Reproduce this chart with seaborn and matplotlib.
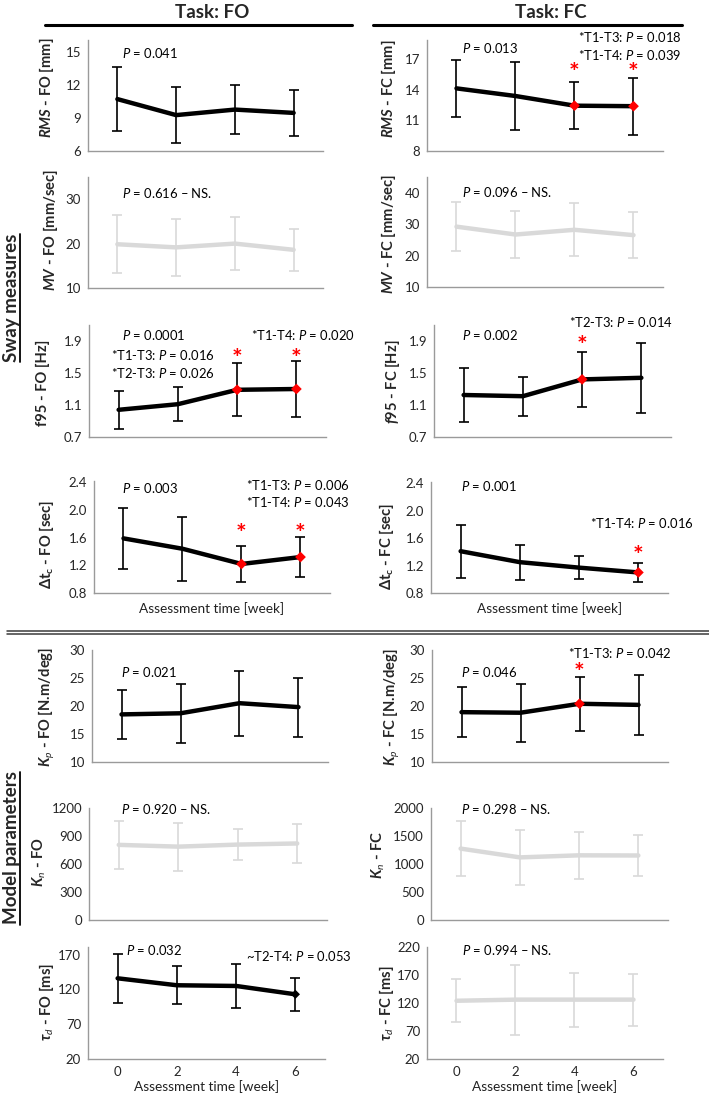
import matplotlib
matplotlib.use("Agg")
import matplotlib.pyplot as plt
import seaborn as sns
import pandas as pd
from matplotlib.lines import Line2D
from matplotlib.ticker import FormatStrFormatter, FixedLocator, NullFormatter

# ---------------- data ----------------
weeks = [0, 2, 4, 6]
week_labels = ["0", "2", "4", "6"]

# Task FO
rms_fo_mean = [10.7, 9.25, 9.75, 9.45]
rms_fo_sd = [2.9, 2.5, 2.25, 2.05]
mv_fo_mean = [19.85, 19.15, 20.0, 18.6]
mv_fo_sd = [6.55, 6.35, 5.9, 4.8]
f95_fo_mean = [1.04, 1.11, 1.29, 1.30]
f95_fo_sd = [0.235, 0.21, 0.33, 0.35]
dtc_fo_mean = [1.59, 1.44, 1.22, 1.32]
dtc_fo_sd = [0.445, 0.465, 0.255, 0.29]
kp_fo_mean = [18.5, 18.7, 20.5, 19.8]
kp_fo_sd = [4.35, 5.25, 5.8, 5.25]
kn_fo_mean = [805, 786, 808, 820]
kn_fo_sd = [259, 257, 170, 209]
td_fo_mean = [136, 126, 125, 113]
td_fo_sd = [35, 27, 32, 24]

# Task FC
rms_fc_mean = [14.15, 13.4, 12.45, 12.4]
rms_fc_sd = [2.8, 3.34, 2.33, 2.8]
mv_fc_mean = [29.2, 26.7, 28.2, 26.5]
mv_fc_sd = [7.85, 7.55, 8.4, 7.35]
f95_fc_mean = [1.225, 1.21, 1.42, 1.44]
f95_fc_sd = [0.34, 0.245, 0.345, 0.435]
dtc_fc_mean = [1.41, 1.25, 1.17, 1.10]
dtc_fc_sd = [0.385, 0.255, 0.165, 0.145]
kp_fc_mean = [18.9, 18.8, 20.4, 20.2]
kp_fc_sd = [4.45, 5.15, 4.8, 5.35]
kn_fc_mean = [1275, 1118, 1155, 1152]
kn_fc_sd = [492, 489, 418, 367]
td_fc_mean = [124, 126, 126, 126]
td_fc_sd = [38, 62.7, 48.4, 46.3]

# ---------------- style ----------------
sns.set_style("white")
plt.rcParams["font.family"] = ["Lato", "DejaVu Sans"]
plt.rcParams["mathtext.fontset"] = "custom"
plt.rcParams["mathtext.rm"] = "Lato"
plt.rcParams["mathtext.it"] = "Lato:italic"
plt.rcParams["mathtext.bf"] = "Lato:bold"
if "mathtext.bfit" in plt.rcParams:
    plt.rcParams["mathtext.bfit"] = "Lato:italic:bold"
plt.rcParams["mathtext.fallback"] = "stixsans"

W, H = 709, 1095
fig = plt.figure(figsize=(W / 100, H / 100), dpi=100)

SPINE = "#9a9a9a"
BLACK = "black"
GRAY = "#d9d9d9"
TICKC = "#262626"
NOTE_FS = 9.4
YLAB_FS = 10.6
TICK_FS = 9.5


def px_rect(l, t, r, b):
    return [l / W, 1 - b / H, (r - l) / W, (b - t) / H]


panels = [
    # ---------- FO column ----------
    dict(mean=rms_fo_mean, sd=rms_fo_sd, box=(88, 40, 323, 151), ylim=(6, 16.05),
         yticks=[6, 9, 12, 15], fmt="%d", sig=True, red=[], star_y=None,
         ylabel=r"$\mathbfit{RMS}$ - FO [mm]", lab=(47, 88),
         notes=[(r"$P$ = 0.041", 0.16, 0.88, "left")]),
    dict(mean=mv_fo_mean, sd=mv_fo_sd, box=(88, 177, 323, 288), ylim=(10, 35),
         yticks=[10, 20, 30], fmt="%d", sig=False, red=[], star_y=None,
         ylabel=r"$\mathbfit{MV}$ - FO [mm/sec]", lab=(50, 230),
         notes=[(r"$P$ = 0.616 – NS.", 0.16, 0.86, "left")]),
    dict(mean=f95_fo_mean, sd=f95_fo_sd, box=(89, 325, 326, 437), ylim=(0.7, 2.1),
         yticks=[0.7, 1.1, 1.5, 1.9], fmt="%.1f", sig=True, red=[2, 3], star_y=1.76,
         ylabel="f95 - FO [Hz]", lab=(43, 383),
         notes=[(r"$P$ = 0.0001", 0.12, 0.91, "left"),
                (r"*T1-T3: $P$ = 0.016", -0.27, 0.73, "left"),
                (r"*T2-T3: $P$ = 0.026", -0.27, 0.574, "left"),
                (r"*T1-T4: $P$ = 0.020", 7.98, 0.91, "right")]),
    dict(mean=dtc_fo_mean, sd=dtc_fo_sd, box=(94, 481, 330, 593), ylim=(0.8, 2.42),
         yticks=[0.8, 1.2, 1.6, 2.0, 2.4], fmt="%.1f", sig=True, red=[2, 3], star_y=1.745,
         ylabel=r"$\mathbf{\Delta t}_{\mathbf{c}}$ - FO [sec]", lab=(47, 544),
         notes=[(r"$P$ = 0.003", -0.04, 0.94, "left"),
                (r"*T1-T3: $P$ = 0.006", 7.67, 0.965, "right"),
                (r"*T1-T4: $P$ = 0.043", 7.67, 0.81, "right")],
         xlabel_y=609),
    dict(mean=kp_fo_mean, sd=kp_fo_sd, box=(92, 650, 328, 762), ylim=(10, 30),
         yticks=[10, 15, 20, 25, 30], fmt="%d", sig=True, red=[], star_y=None,
         ylabel=r"$\mathbfit{K}_{\mathit{p}}$ - FO [N.m/deg]", lab=(47, 707),
         notes=[(r"$P$ = 0.021", -0.01, 0.80, "left")]),
    dict(mean=kn_fo_mean, sd=kn_fo_sd, box=(89, 808, 327, 920), ylim=(0, 1200),
         yticks=[0, 300, 600, 900, 1200], fmt="%d", sig=False, red=[], star_y=None,
         ylabel=r"$\mathbfit{K}_{\mathit{n}}$ - FO", lab=(39, 862),
         notes=[(r"$P$ = 0.920 – NS.", 0.09, 0.99, "left")]),
    dict(mean=td_fo_mean, sd=td_fo_sd, box=(88, 947, 325, 1059), ylim=(20, 181),
         yticks=[20, 70, 120, 170], fmt="%d", sig=True, red=[], star_y=None,
         black_marker=[3],
         ylabel=r"$\mathbfit{\tau}_{\mathit{d}}$ - FO [ms]", lab=(47, 1002),
         notes=[(r"$P$ = 0.032", 0.27, 0.97, "left"),
                (r"~T2-T4: $P$ = 0.053", 7.9, 0.92, "right")],
         xlabel_y=1087, bottom=True),
    # ---------- FC column ----------
    dict(mean=rms_fc_mean, sd=rms_fc_sd, box=(427, 40, 663, 151), ylim=(8, 18.9),
         yticks=[8, 11, 14, 17], fmt="%d", sig=True, red=[2, 3], star_y=16.27,
         ylabel=r"$\mathbfit{RMS}$ - FC [mm]", lab=(388, 89),
         notes=[(r"$P$ = 0.013", 0.19, 0.93, "left"),
                (r"*T1-T3: $P$ = 0.018", 7.61, 1.03, "right"),
                (r"*T1-T4: $P$ = 0.039", 7.61, 0.865, "right")]),
    dict(mean=mv_fc_mean, sd=mv_fc_sd, box=(427, 177, 663, 287), ylim=(10, 45),
         yticks=[10, 20, 30, 40], fmt="%d", sig=False, red=[], star_y=None,
         ylabel=r"$\mathbfit{MV}$ - FC [mm/sec]", lab=(388, 234),
         notes=[(r"$P$ = 0.096 – NS.", 0.19, 0.86, "left")]),
    dict(mean=f95_fc_mean, sd=f95_fc_sd, box=(434, 325, 671, 437), ylim=(0.7, 2.1),
         yticks=[0.7, 1.1, 1.5, 1.9], fmt="%.1f", sig=True, red=[2], star_y=1.92,
         ylabel=r"$\mathbfit{f}$95 - FC [Hz]", lab=(392, 382),
         notes=[(r"$P$ = 0.002", -0.05, 0.91, "left"),
                (r"*T2-T3: $P$ = 0.014", 7.05, 1.03, "right")]),
    dict(mean=dtc_fc_mean, sd=dtc_fc_sd, box=(431, 482, 668, 593), ylim=(0.8, 2.42),
         yticks=[0.8, 1.2, 1.6, 2.0, 2.4], fmt="%.1f", sig=True, red=[3], star_y=1.44,
         ylabel=r"$\mathbf{\Delta t}_{\mathbf{c}}$ - FC [sec]", lab=(387, 546),
         notes=[(r"$P$ = 0.001", 0.01, 0.96, "left"),
                (r"*T1-T4: $P$ = 0.016", 7.86, 0.63, "right")],
         xlabel_y=609),
    dict(mean=kp_fc_mean, sd=kp_fc_sd, box=(432, 650, 668, 762), ylim=(10, 30),
         yticks=[10, 15, 20, 25, 30], fmt="%d", sig=True, red=[2], star_y=27.05,
         ylabel=r"$\mathbfit{K}_{\mathit{p}}$ - FC [N.m/deg]", lab=(392, 707),
         notes=[(r"$P$ = 0.046", -0.02, 0.80, "left"),
                (r"*T1-T3: $P$ = 0.042", 7.1, 0.97, "right")]),
    dict(mean=kn_fc_mean, sd=kn_fc_sd, box=(431, 808, 668, 920), ylim=(0, 2000),
         yticks=[0, 500, 1000, 1500, 2000], fmt="%d", sig=False, red=[], star_y=None,
         ylabel=r"$\mathbfit{K}_{\mathit{n}}$ - FC", lab=(378, 855),
         notes=[(r"$P$ = 0.298 – NS.", 0.0, 0.99, "left")]),
    dict(mean=td_fc_mean, sd=td_fc_sd, box=(427, 947, 663, 1059), ylim=(20, 220),
         yticks=[20, 70, 120, 170, 220], fmt="%d", sig=False, red=[], star_y=None,
         ylabel=r"$\mathbfit{\tau}_{\mathit{d}}$ - FC [ms]", lab=(387, 1003),
         notes=[(r"$P$ = 0.994 – NS.", 0.17, 0.97, "left")],
         xlabel_y=1087, bottom=True),
]

for p in panels:
    ax = fig.add_axes(px_rect(*p["box"]))
    color = BLACK if p["sig"] else GRAY
    df = pd.DataFrame({"week": weeks, "value": p["mean"], "sd": p["sd"]})
    ax.errorbar(df["week"], df["value"], yerr=df["sd"], fmt="none", ecolor=color,
                elinewidth=1.2, capsize=3.5, capthick=1.2, zorder=2)
    sns.lineplot(data=df, x="week", y="value", ax=ax, color=color, lw=3.2,
                 errorbar=None, legend=False, zorder=3)
    if p["red"]:
        sub = df.iloc[p["red"]]
        sns.scatterplot(data=sub, x="week", y="value", ax=ax, marker="D", color="red",
                        s=30, edgecolor="none", zorder=4, legend=False)
        for _, row in sub.iterrows():
            ax.annotate("*", xy=(row["week"], p["star_y"]), xytext=(0, -10.5),
                        textcoords="offset points", ha="center", va="baseline",
                        color="red", fontsize=18, fontweight="bold")
    if p.get("black_marker"):
        sub = df.iloc[p["black_marker"]]
        sns.scatterplot(data=sub, x="week", y="value", ax=ax, marker="D", color="black",
                        s=22, edgecolor="none", zorder=4, legend=False)

    ax.set_xlim(-1, 7)
    ax.set_ylim(*p["ylim"])
    ax.set_yticks(p["yticks"])
    ax.yaxis.set_major_formatter(FormatStrFormatter(p["fmt"]))
    ax.set_xlabel("")
    ax.set_ylabel("")
    ax.set_facecolor("none")
    for s in ["top", "right"]:
        ax.spines[s].set_visible(False)
    for s in ["left", "bottom"]:
        ax.spines[s].set_color(SPINE)
        ax.spines[s].set_linewidth(1.0)
    ax.tick_params(axis="y", length=0, pad=5, labelsize=TICK_FS, labelcolor=TICKC)
    if p.get("bottom"):
        ax.xaxis.set_major_locator(FixedLocator([-1, 1, 3, 5, 7]))
        ax.xaxis.set_major_formatter(NullFormatter())
        ax.xaxis.set_minor_locator(FixedLocator(weeks))
        ax.set_xticklabels(week_labels, minor=True)
        ax.tick_params(axis="x", which="major", direction="in", length=5,
                       width=1.0, color=SPINE)
        ax.tick_params(axis="x", which="minor", length=0, pad=5, labelsize=TICK_FS,
                       labelcolor=TICKC)
    else:
        ax.set_xticks([])

    for txt, xd, yf, ha in p["notes"]:
        ax.text(xd, yf, txt, transform=ax.get_xaxis_transform(), ha=ha, va="center",
                fontsize=NOTE_FS, color="black")

    fig.text(p["lab"][0] / W, 1 - p["lab"][1] / H, p["ylabel"], rotation=90,
             ha="center", va="center", fontsize=YLAB_FS, fontweight="bold")
    if "xlabel_y" in p:
        l, t, r, b = p["box"]
        fig.text((l + r) / 2 / W, 1 - p["xlabel_y"] / H, "Assessment time [week]",
                 ha="center", va="center", fontsize=9.8, color="#222222")

# ---------------- headers & separators ----------------
fig.text(212.5 / W, 1 - 12.5 / H, "Task: FO", ha="center", va="center",
         fontsize=13.5, fontweight="bold")
fig.text(550.5 / W, 1 - 12.5 / H, "Task: FC", ha="center", va="center",
         fontsize=13.5, fontweight="bold")
fig.add_artist(Line2D([45 / W, 352 / W], [1 - 24.5 / H] * 2, color="black", lw=2.2))
fig.add_artist(Line2D([373 / W, 682 / W], [1 - 24.5 / H] * 2, color="black", lw=2.2))
fig.add_artist(Line2D([7 / W, 1.0], [1 - 630.5 / H] * 2, color="#3a3a3a", lw=1.1))
fig.add_artist(Line2D([7 / W, 1.0], [1 - 633.5 / H] * 2, color="#3a3a3a", lw=1.1))

sec1 = fig.text(17 / W, 1 - 298 / H, "Sway measures", rotation=90, rotation_mode="anchor",
                ha="center", va="baseline", fontsize=13.5, fontweight="bold")
sec2 = fig.text(17 / W, 1 - 848 / H, "Model parameters", rotation=90, rotation_mode="anchor",
                ha="center", va="baseline", fontsize=13.5, fontweight="bold")

fig.canvas.draw()
renderer = fig.canvas.get_renderer()
for t in (sec1, sec2):
    bb = t.get_window_extent(renderer)
    fig.add_artist(Line2D([19.5 / W] * 2, [bb.y0 / H, bb.y1 / H], color="black", lw=1.3))

fig.savefig("out.png", dpi=100)
